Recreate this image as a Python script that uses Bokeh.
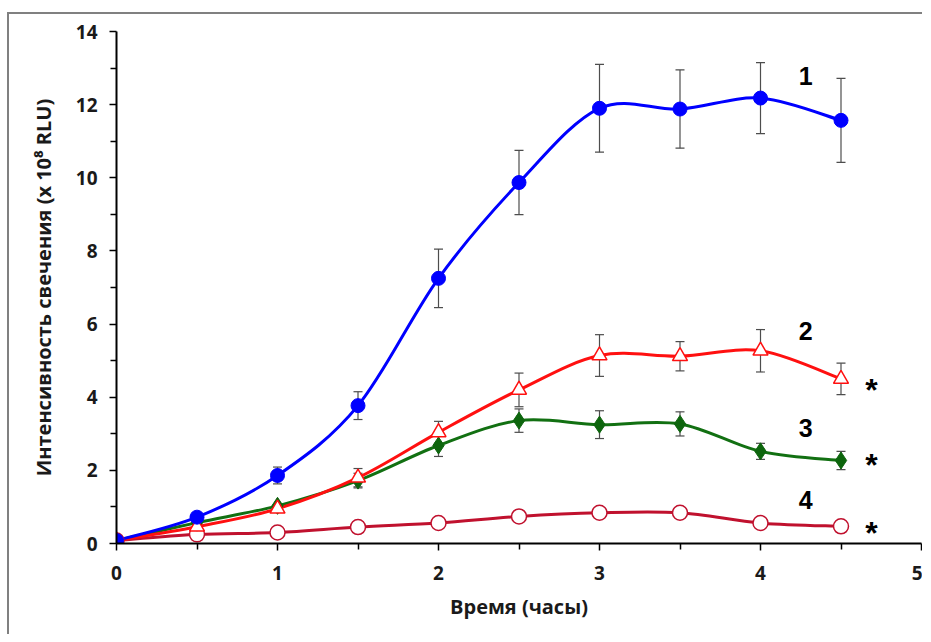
from bokeh.plotting import figure
from bokeh.models import ColumnDataSource, Whisker, TeeHead, FixedTicker, Range1d, Label
from bokeh.embed import file_html
from bokeh.resources import INLINE

# ---- data ----
hours = [0, 0.5, 1, 1.5, 2, 2.5, 3, 3.5, 4, 4.5]
s1 = [0.08, 0.72, 1.86, 3.77, 7.25, 9.87, 11.9, 11.88, 12.18, 11.57]
s1_err = [0, 0, 0.23, 0.38, 0.8, 0.88, 1.2, 1.07, 0.97, 1.15]
s2 = [0.08, 0.46, 0.95, 1.8, 3.04, 4.2, 5.14, 5.12, 5.27, 4.5]
s2_err = [0, 0, 0, 0.25, 0.3, 0.46, 0.57, 0.4, 0.58, 0.43]
s3 = [0.08, 0.57, 1.03, 1.72, 2.68, 3.36, 3.25, 3.27, 2.52, 2.27]
s3_err = [0, 0, 0, 0.2, 0.3, 0.32, 0.38, 0.33, 0.22, 0.25]
s4 = [0.08, 0.25, 0.3, 0.45, 0.56, 0.74, 0.84, 0.84, 0.56, 0.47]
series_labels = ["1", "2", "3", "4"]
x_ticks = [0, 1, 2, 3, 4, 5]
y_ticks = [0, 2, 4, 6, 8, 10, 12, 14]

p = figure(width=915, height=622, output_backend="svg", toolbar_location=None,
           x_range=Range1d(0, 5), y_range=Range1d(0, 14),
           min_border_left=107, min_border_right=3, min_border_top=17, min_border_bottom=93)
p.styles = {"border-left": "2px solid #808080", "border-top": "2px solid #808080",
            "margin-top": "12px", "margin-left": "7px"}
p.outline_line_color = None
p.xgrid.visible = False
p.ygrid.visible = False


def smooth(x, y):
    n = len(x)
    x0, y0, x1, y1, cx0, cy0, cx1, cy1 = [], [], [], [], [], [], [], []
    for i in range(n - 1):
        pxm, pym = (x[i - 1], y[i - 1]) if i > 0 else (x[i], y[i])
        pxp, pyp = (x[i + 2], y[i + 2]) if i + 2 < n else (x[i + 1], y[i + 1])
        x0.append(x[i]); y0.append(y[i]); x1.append(x[i + 1]); y1.append(y[i + 1])
        cx0.append(x[i] + (x[i + 1] - pxm) / 6.0)
        cy0.append(y[i] + (y[i + 1] - pym) / 6.0)
        cx1.append(x[i + 1] - (pxp - x[i]) / 6.0)
        cy1.append(y[i + 1] - (pyp - y[i]) / 6.0)
    return dict(x0=x0, y0=y0, x1=x1, y1=y1, cx0=cx0, cy0=cy0, cx1=cx1, cy1=cy1)


def errbars(x, y, e):
    xs = [a for a, k in zip(x, e) if k > 0]
    up = [b + k for b, k in zip(y, e) if k > 0]
    lo = [b - k for b, k in zip(y, e) if k > 0]
    src = ColumnDataSource(dict(x=xs, upper=up, lower=lo))
    w = Whisker(source=src, base="x", upper="upper", lower="lower",
                line_color="#4d4d4d", line_width=1.2,
                upper_head=TeeHead(size=9, line_color="#4d4d4d", line_width=1.2),
                lower_head=TeeHead(size=9, line_color="#4d4d4d", line_width=1.2),
                level="underlay")
    p.add_layout(w)


errbars(hours, s1, s1_err)
errbars(hours, s2, s2_err)
errbars(hours, s3, s3_err)

p.bezier(source=ColumnDataSource(smooth(hours, s4)), x0="x0", y0="y0", x1="x1", y1="y1",
         cx0="cx0", cy0="cy0", cx1="cx1", cy1="cy1", line_color="#c0112e", line_width=3)
p.bezier(source=ColumnDataSource(smooth(hours, s3)), x0="x0", y0="y0", x1="x1", y1="y1",
         cx0="cx0", cy0="cy0", cx1="cx1", cy1="cy1", line_color="#127012", line_width=3)
p.bezier(source=ColumnDataSource(smooth(hours, s2)), x0="x0", y0="y0", x1="x1", y1="y1",
         cx0="cx0", cy0="cy0", cx1="cx1", cy1="cy1", line_color="#ff1010", line_width=3)
p.bezier(source=ColumnDataSource(smooth(hours, s1)), x0="x0", y0="y0", x1="x1", y1="y1",
         cx0="cx0", cy0="cy0", cx1="cx1", cy1="cy1", line_color="#0000ff", line_width=3)

p.scatter(hours, s4, marker="circle", size=15, fill_color="white",
          line_color="#c0112e", line_width=1.5)
p.scatter(hours, s3, marker="diamond", size=17, fill_color="#0d650d",
          line_color="#0d650d", line_width=1)
p.scatter(hours, s2, marker="triangle", size=15, fill_color="white",
          line_color="#ff1010", line_width=1.5)
p.scatter(hours, s1, marker="circle", size=14, fill_color="#0000ff",
          line_color="#0000ff", line_width=1)

# series numbers and asterisks
lab_pos = [(4.28, 12.77), (4.28, 5.8), (4.28, 3.15), (4.28, 1.18)]
for t, (lx, ly) in zip(series_labels, lab_pos):
    p.add_layout(Label(x=lx, y=ly, text=t, text_font="Liberation Sans",
                       text_font_style="bold", text_font_size="25px",
                       text_color="black", text_align="center", text_baseline="middle"))
for ly in [4.4, 2.35, 0.49]:
    p.add_layout(Label(x=4.69, y=ly, text="*", text_font="Liberation Sans",
                       text_font_style="bold", text_font_size="32px",
                       text_color="black", text_align="center", text_baseline="middle",
                       y_offset=-7))

# axes
for ax in (p.xaxis[0], p.yaxis[0]):
    ax.axis_line_color = "black"
    ax.axis_line_width = 2
    ax.major_tick_line_color = "black"
    ax.minor_tick_line_color = "black"
    ax.major_tick_line_width = 1.5
    ax.minor_tick_line_width = 1.5
    ax.major_tick_in = 0
    ax.major_tick_out = 7
    ax.minor_tick_in = 0
    ax.minor_tick_out = 6
    ax.major_label_text_font = "Open Sans"
    ax.major_label_text_font_style = "bold"
    ax.major_label_text_font_size = "19px"
    ax.major_label_text_color = "#1a1a1a"
    ax.axis_label_text_font = "Open Sans"
    ax.axis_label_text_font_style = "bold"
    ax.axis_label_text_font_size = "20px"
    ax.axis_label_text_color = "#1a1a1a"

p.xaxis.ticker = FixedTicker(ticks=x_ticks, minor_ticks=[0.5, 1.5, 2.5, 3.5, 4.5])
p.yaxis.ticker = FixedTicker(ticks=y_ticks, minor_ticks=[1, 3, 5, 7, 9, 11, 13])
p.xaxis.major_label_standoff = 15
p.yaxis.major_label_standoff = 12
p.xaxis.axis_label = "Время (часы)"
p.yaxis.axis_label = "Интенсивность свечения (x 10⁸ RLU)"
p.xaxis.axis_label_standoff = 10
p.yaxis.axis_label_standoff = 16

open("out.html", "w").write(file_html(p, INLINE))
